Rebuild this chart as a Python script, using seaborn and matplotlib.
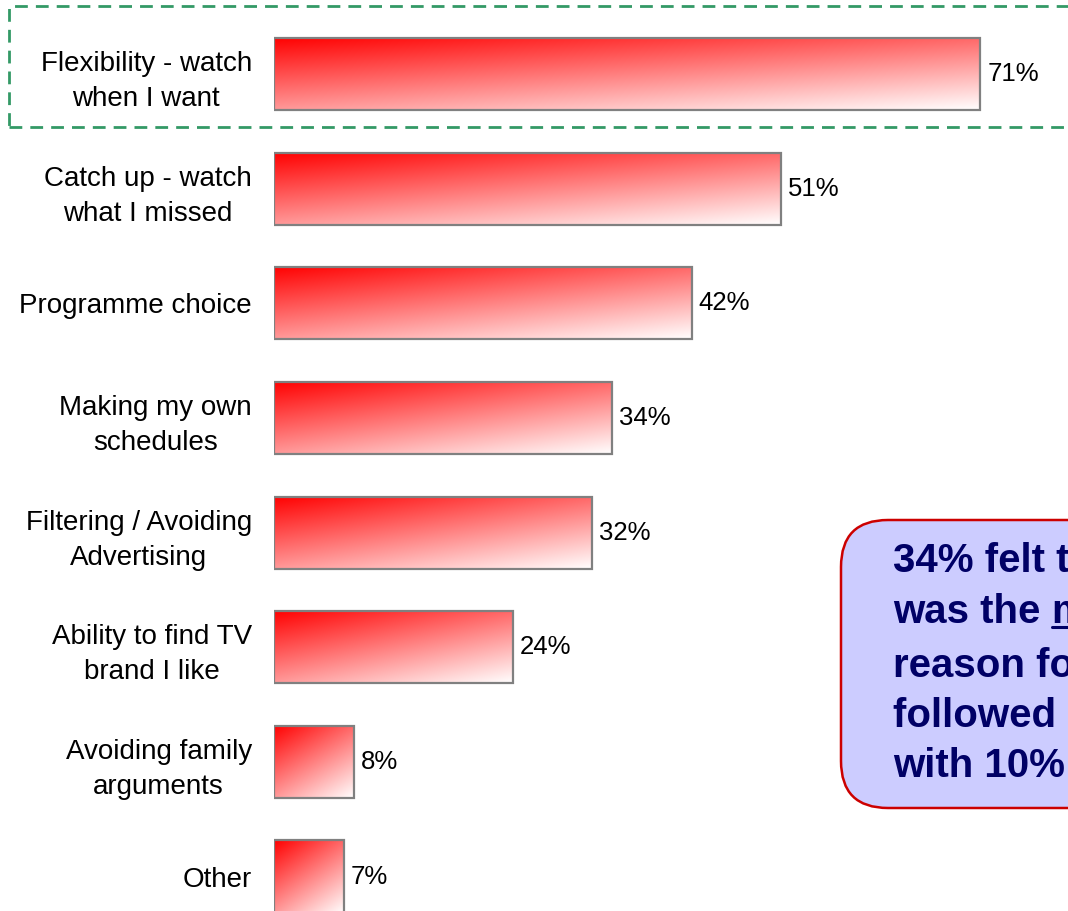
import numpy as np
import matplotlib
matplotlib.use("Agg")
import matplotlib.pyplot as plt
from matplotlib.patches import Rectangle, FancyBboxPatch
from matplotlib.lines import Line2D
import seaborn as sns
import pandas as pd

categories = ["Flexibility - watch\nwhen I want", "Catch up - watch\nwhat I missed",
              "Programme choice", "Making my own\nschedules",
              "Filtering / Avoiding\nAdvertising", "Ability to find TV\nbrand I like",
              "Avoiding family\narguments", "Other"]
values = [71, 51, 42, 34, 32, 24, 8, 7]
value_labels = [f"{v}%" for v in values]
callout_lines = ["34% felt that this", "was the ", "reason for using", "followed by catch up", "with 10%"]
callout_underlined = "main"

sns.set_theme(style="white")
plt.rcParams['font.family'] = ['Liberation Sans', 'DejaVu Sans']

W, H = 1068, 911
fig = plt.figure(figsize=(W / 100, H / 100), dpi=100)
x0 = 274
ax = fig.add_axes([x0 / W, 0, 1 - x0 / W, 1])

df = pd.DataFrame({"cat": categories, "val": values})
sns.barplot(data=df, y="cat", x="val", orient="h", ax=ax, width=0.63,
            color="white", edgecolor="#808080", linewidth=1.6, saturation=1)

xmax = (W - x0) / 9.95
ylim = (7.30, -0.646)

# gradient fills
n = 200
uu, vv = np.meshgrid(np.linspace(0, 1, n), np.linspace(0, 1, n))
t = np.clip(0.4 * uu + 0.6 * vv, 0, 1)
img = np.dstack([np.ones_like(t), t, t])
for p in ax.patches:
    x, y, w, h = p.get_x(), p.get_y(), p.get_width(), p.get_height()
    y_top, y_bot = min(y, y + h), max(y, y + h)
    im = ax.imshow(img, extent=(x, x + w, y_bot, y_top), origin="upper",
                   aspect="auto", zorder=p.get_zorder() - 0.1, interpolation="bilinear")
    im.set_clip_path(p)
    p.set_facecolor("none")
    p.set_zorder(3)

for p, lab in zip(ax.patches, value_labels):
    cy = p.get_y() + p.get_height() / 2
    ax.text(p.get_x() + p.get_width() + 0.7, cy, lab, ha="left", va="center",
            fontsize=18.5, color="black")

ax.set_xlim(0, xmax)
ax.set_ylim(*ylim)
ax.set_xticks([])
ax.set_xlabel("")
ax.set_ylabel("")
for s in ax.spines.values():
    s.set_visible(False)
ax.tick_params(axis="y", length=0, pad=16)
for tl in ax.get_yticklabels():
    tl.set_fontsize(20)
    tl.set_multialignment("center")
    tl.set_linespacing(1.45)
    tl.set_color("black")

# dashed highlight box around first row
fig.add_artist(Rectangle((9 / W, 1 - 127 / H), (1090 - 9) / W, (127 - 6) / H,
                         transform=fig.transFigure, fill=False, edgecolor="#339966",
                         linestyle=(0, (4.6, 2.9)), linewidth=2.0, zorder=5))

# callout box
box = FancyBboxPatch((8.41, (H - 808) / 100), 3.0, 2.88,
                     boxstyle="round,pad=0,rounding_size=0.47",
                     transform=fig.dpi_scale_trans, facecolor="#CCCCFF",
                     edgecolor="#CC0000", linewidth=1.8, zorder=6)
fig.add_artist(box)

baselines = [572, 623, 677, 727, 777]
txts = []
for line, b in zip(callout_lines, baselines):
    tt = fig.text(893 / W, 1 - b / H, line, ha="left", va="baseline", fontsize=29,
                  fontweight="bold", color="#000066", zorder=7)
    txts.append(tt)

fig.canvas.draw()
r = fig.canvas.get_renderer()
bb = txts[1].get_window_extent(r)
xe = bb.x1
tm = fig.text(xe / W, 1 - baselines[1] / H, callout_underlined, ha="left", va="baseline",
              fontsize=29, fontweight="bold", color="#000066", zorder=7)
bm = tm.get_window_extent(r)
fig.add_artist(Line2D([bm.x0 / W, bm.x1 / W], [1 - 627 / H, 1 - 627 / H],
                      transform=fig.transFigure, color="#000066", linewidth=2.2, zorder=7))

fig.savefig("out.png", dpi=100)
